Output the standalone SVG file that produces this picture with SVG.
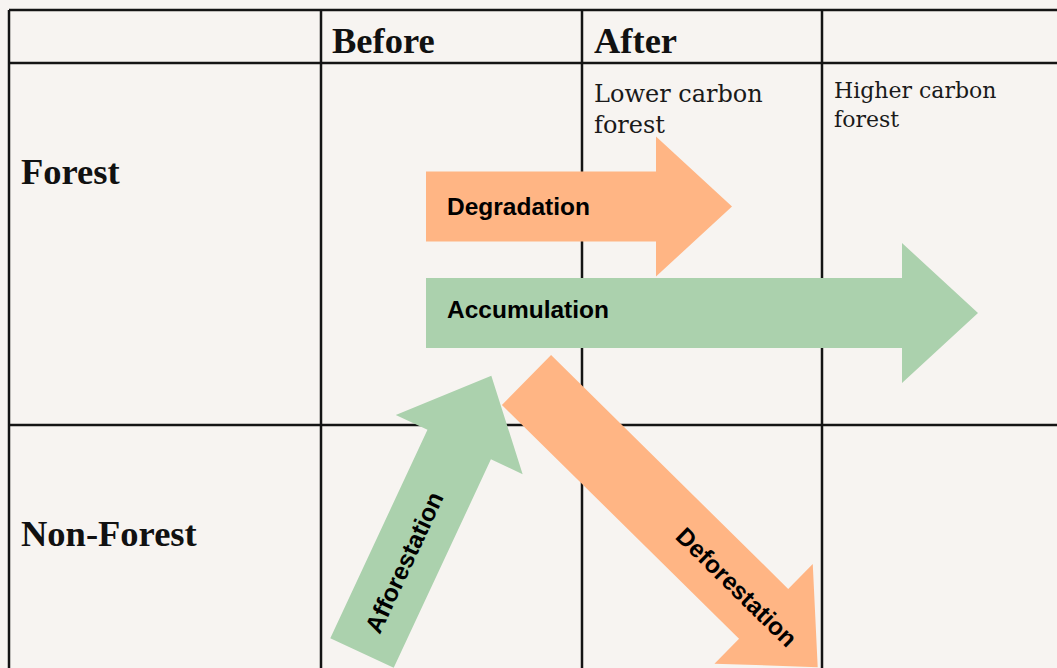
<svg xmlns="http://www.w3.org/2000/svg" width="1057" height="668" viewBox="0 0 1057 668">
  <style>
    .grid { stroke: #141414; stroke-width: 2.5; fill: none; }
    .head { font-family: "Liberation Serif", "Times New Roman", serif; font-weight: bold; font-size: 36.5px; fill: #111; }
    .note { font-family: "DejaVu Serif", serif; fill: #1a1a1a; }
    .lbl { font-family: "Liberation Sans", Arial, sans-serif; font-weight: bold; font-size: 24.5px; fill: #000; }
    .loss { fill: #FFB584; }
    .gain { fill: #ABD1AD; }
  </style>

  <!-- page background -->
  <rect x="0" y="0" width="1057" height="668" fill="#F7F4F1"/>

  <!-- table grid -->
  <g id="grid" class="grid">
    <line x1="9" y1="10" x2="1057" y2="10"/>
    <line x1="9" y1="63" x2="1057" y2="63"/>
    <line x1="9" y1="425" x2="1057" y2="425"/>
    <line x1="9" y1="10" x2="9" y2="668"/>
    <line x1="321" y1="10" x2="321" y2="668"/>
    <line x1="582" y1="10" x2="582" y2="668"/>
    <line x1="822" y1="10" x2="822" y2="668"/>
  </g>

  <!-- column and row headers -->
  <g id="col-before"><text class="head" x="332" y="53">Before</text></g>
  <g id="col-after"><text class="head" x="594" y="53">After</text></g>
  <g id="row-forest"><text class="head" x="21" y="184">Forest</text></g>
  <g id="row-nonforest"><text class="head" x="21" y="546">Non-Forest</text></g>

  <!-- cell notes -->
  <g id="lower-carbon">
    <text class="note" font-size="24" x="594" y="102">Lower carbon</text>
    <text class="note" font-size="24" x="594" y="133">forest</text>
  </g>
  <g id="higher-carbon">
    <text class="note" font-size="22" x="834" y="98">Higher carbon</text>
    <text class="note" font-size="22" x="834" y="127">forest</text>
  </g>

  <!-- transition arrows -->
  <g id="connectors">
    <g id="deforestation" transform="translate(526.5 380) rotate(44.6)">
      <path class="loss" d="M0,-35 H333 V-70 L409,0 L333,70 V35 H0 Z"/>
      <text class="lbl" x="295" y="8.5" text-anchor="middle">Deforestation</text>
    </g>
    <g id="afforestation" transform="translate(362 653) rotate(-65)">
      <path class="gain" d="M0,-35 H230 V-70 L306,0 L230,70 V35 H0 Z"/>
      <text class="lbl" x="100" y="8.5" text-anchor="middle">Afforestation</text>
    </g>
    <g id="degradation" transform="translate(426 206.5)">
      <path class="loss" d="M0,-35 H230 V-70 L306,0 L230,70 V35 H0 Z"/>
      <text class="lbl" x="21" y="8">Degradation</text>
    </g>
    <g id="accumulation" transform="translate(426 313)">
      <path class="gain" d="M0,-35 H476 V-70 L552,0 L476,70 V35 H0 Z"/>
      <text class="lbl" x="21" y="5">Accumulation</text>
    </g>
  </g>
</svg>
